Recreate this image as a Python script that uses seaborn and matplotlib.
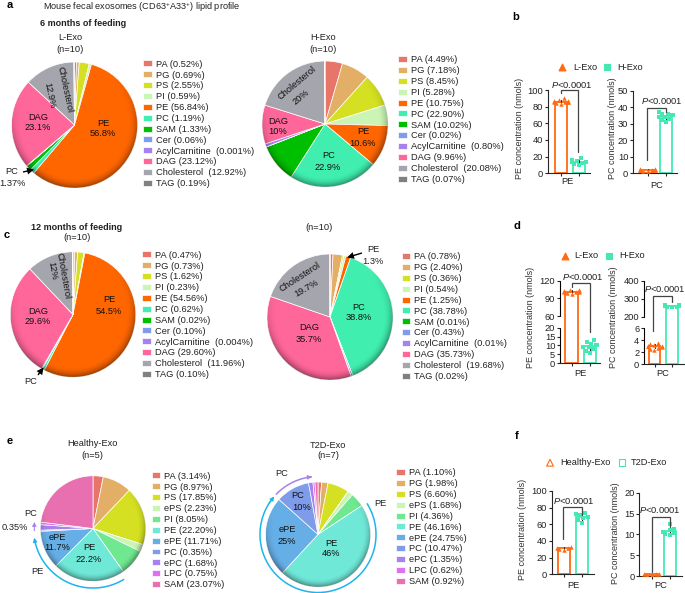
# lipid profile figure, panels a-f
import numpy as np
import pandas as pd
import seaborn as sns
import matplotlib
matplotlib.use("Agg")
import matplotlib.pyplot as plt
from matplotlib.patches import Circle

mouse_lipids = ["PA", "PG", "PS", "PI", "PE", "PC", "SAM", "Cer", "AcylCarnitine ", "DAG", "Cholesterol ", "TAG"]
human_lipids = ["PA", "PG", "PS", "ePS", "PI", "PE", "ePE", "PC", "ePC", "LPC", "SAM"]

mouse_colors = ["#E8756A", "#E3AE66", "#D4E021", "#CBF5B5", "#FF6600", "#40EFB0",
                "#00BE00", "#7F9CEB", "#A582EE", "#FF6699", "#A5A5AD", "#808080"]
human_colors = ["#E8756A", "#E3AE66", "#D4E021", "#CBF5B5", "#70E890", "#70E8D8",
                "#66AEE6", "#7F9CEB", "#A582EE", "#E070EE", "#E870B0"]

l_exo_6m = [0.52, 0.69, 2.55, 0.59, 56.84, 1.19, 1.33, 0.06, 0.001, 23.12, 12.92, 0.19]
h_exo_6m = [4.49, 7.18, 8.45, 5.28, 10.75, 22.90, 10.02, 0.02, 0.80, 9.96, 20.08, 0.07]
l_exo_12m = [0.47, 0.73, 1.62, 0.23, 54.56, 0.62, 0.02, 0.10, 0.004, 29.60, 11.96, 0.10]
h_exo_12m = [0.78, 2.40, 0.36, 0.54, 1.25, 38.78, 0.01, 0.43, 0.01, 35.73, 19.68, 0.02]
healthy_exo = [3.14, 8.97, 17.85, 2.23, 8.05, 22.20, 11.71, 0.35, 1.68, 0.75, 23.07]
t2d_exo = [1.10, 1.98, 6.60, 1.68, 4.36, 46.16, 24.75, 10.47, 1.35, 0.62, 0.92]

pe_6m_l = [83, 84, 85, 85, 86, 86, 87, 87, 88, 90]
pe_6m_h = [10, 11, 12, 13, 13, 14, 14, 15, 16, 18]
pc_6m_l = [1.2, 1.5, 1.7, 1.8, 2.0, 2.0, 2.2, 2.3, 2.5, 2.8]
pc_6m_h = [31, 32, 33, 34, 34, 35, 35, 36, 36, 37]
pe_12m_l = [98, 99, 100, 101, 101, 102, 102, 103, 104, 105]
pe_12m_h = [6, 7, 8, 9, 9, 10, 10, 11, 12, 13]
pc_12m_l = [2.4, 2.6, 2.8, 2.9, 3.0, 3.0, 3.1, 3.2, 3.4, 3.6]
pc_12m_h = [252, 254, 256, 258, 258, 260, 260, 262, 264, 266]
pe_t2d_l = [29, 30, 31, 32, 33]
pe_t2d_h = [62, 65, 67, 69, 71, 72, 73]
pc_t2d_l = [0.2, 0.3, 0.4, 0.5, 0.6]
pc_t2d_h = [9.8, 10.0, 10.3, 10.5, 11.0, 11.4, 12.4]

ORANGE = "#FF6A13"
GREEN = "#45E8B4"
BLUE = "#1EB4F0"
PURPLE = "#A582EE"
TXT = "#222222"
LINE = "#444444"
FS = 6.7
W, H = 685, 593

sns.set_theme(context="paper", style="ticks", rc={
    "axes.linewidth": 0.8, "xtick.major.width": 0.8, "ytick.major.width": 0.8,
    "xtick.major.size": 2.2, "ytick.major.size": 2.2, "xtick.major.pad": 1.5, "ytick.major.pad": 1.2,
    "ytick.labelsize": FS, "xtick.labelsize": FS, "text.color": TXT, "ytick.labelcolor": TXT,
    "mathtext.fontset": "custom", "mathtext.rm": "Liberation Sans",
    "mathtext.it": "Liberation Sans:italic", "mathtext.bf": "Liberation Sans:bold",
})
plt.rcParams["font.family"] = ["Liberation Sans", "DejaVu Sans"]

fig = plt.figure(figsize=(W / 100, H / 100), dpi=100)

# overlay in pixel coordinates for annotations
over = fig.add_axes([0, 0, 1, 1], zorder=10)
over.set_xlim(0, W)
over.set_ylim(H, 0)
over.axis("off")


def box(x0, y0, x1, y1):
    return [x0 / W, 1 - y1 / H, (x1 - x0) / W, (y1 - y0) / H]


def put(x, y, s, size=FS, **kw):
    over.text(x, y, s, fontsize=size, ha=kw.pop("ha", "center"), va="center", **kw)


def pct(v):
    return f"{v:.3f}%" if v < 0.01 else f"{v:.2f}%"


def pie_panel(values, names, colors, cx, cy, r, leg_x, leg_y, row=10.6):
    ax = fig.add_axes(box(cx - r - 1, cy - r - 1, cx + r + 1, cy + r + 1))
    wedges, _ = ax.pie(values, colors=colors, startangle=90, counterclock=False, radius=1,
                       wedgeprops={"edgecolor": "white", "linewidth": 0.5})
    # darker rim on the lower right, the pies look slightly 3D
    yy, xx = np.mgrid[-1:1:300j, -1:1:300j]
    rim = np.clip((np.hypot(xx, yy) - 0.84) / 0.16, 0, 1) ** 2
    side = np.clip(0.5 - yy * 0.85 + xx * 0.2, 0, 1)
    shade = np.zeros(xx.shape + (4,))
    shade[..., 3] = 0.38 * rim * side
    img = ax.imshow(shade, extent=(-1, 1, -1, 1), origin="lower", zorder=5)
    img.set_clip_path(Circle((0, 0), 1, transform=ax.transData))
    lim = (r + 1) / r
    ax.set_xlim(-lim, lim)
    ax.set_ylim(-lim, lim)
    ax.set_aspect("equal")
    ax.axis("off")
    labels = [f"{n} ({pct(v)})" for n, v in zip(names, values)]
    ax.legend(wedges, labels, loc="upper left", bbox_to_anchor=(leg_x / W, 1 - (leg_y - row / 2) / H),
              bbox_transform=fig.transFigure, frameon=False, fontsize=FS, borderpad=0, borderaxespad=0,
              handlelength=0.92, handleheight=0.6, handletextpad=0.45, labelspacing=0.2)


def bar_panel(left, right, axis_x, ticks_px, x_end, y_map, yticks):
    # y_map: pairs of (data value, pixel), more than two pairs gives the broken axis
    vals = [p[0] for p in y_map]
    pix = [p[1] for p in y_map]
    top, bot = pix[-1], pix[0]
    ax = fig.add_axes(box(axis_x, top, x_end, bot))
    step = ticks_px[1] - ticks_px[0]
    frac = [(bot - p) / (bot - top) for p in pix]

    def fwd(v):
        return np.interp(np.ravel(v), vals, frac).reshape(np.shape(v))

    def inv(v):
        return np.interp(np.ravel(v), frac, vals).reshape(np.shape(v))

    if len(y_map) > 2:
        ax.set_yscale("function", functions=(fwd, inv))
    df = pd.DataFrame({"group": ["l"] * len(left) + ["h"] * len(right), "value": left + right})
    sns.barplot(data=df, x="group", y="value", hue="group", order=["l", "h"], hue_order=["l", "h"],
                palette=[ORANGE, GREEN], fill=False, width=0.66, linewidth=1.3, errorbar="sd",
                err_kws={"color": "#111111", "linewidth": 0.7}, legend=False, ax=ax)
    for key, col, mk in (("l", ORANGE, "^"), ("h", GREEN, "s")):
        sns.swarmplot(data=df[df.group == key], x="group", y="value", order=["l", "h"], color=col,
                      marker=mk, size=3.2, ax=ax, warn_thresh=1)
    ax.set_xlim(-(ticks_px[0] - axis_x) / step, (x_end - ticks_px[0]) / step)
    ax.set_ylim(vals[0], vals[-1])
    ax.set_yticks(yticks)
    ax.set_xticks([0, 1])
    ax.set_xticklabels(["", ""])
    ax.set_xlabel("")
    ax.set_ylabel("")
    ax.patch.set_alpha(0)
    sns.despine(ax=ax)
    if len(y_map) > 2:
        # leave a gap in the y axis line at the break
        ax.spines["left"].set_visible(False)
        tr = ax.get_yaxis_transform()
        ax.plot([0, 0], [vals[0], vals[1]], color="black", lw=0.8, transform=tr, clip_on=False)
        ax.plot([0, 0], [vals[2], vals[3]], color="black", lw=0.8, transform=tr, clip_on=False)
    return ax


def bracket(x0, y0, top, x1, y1):
    over.plot([x0, x0, x1, x1], [y0, top, top, y1], color=LINE, lw=0.9, solid_joinstyle="miter")


def arrow(x0, y0, x1, y1, color="black", width=1.0, head=5):
    over.annotate("", xy=(x1, y1), xytext=(x0, y0),
                  arrowprops={"facecolor": color, "edgecolor": color, "width": width, "headwidth": head,
                              "headlength": head, "shrink": 0, "linewidth": 0})


def arc(cx, cy, r, t0, t1, color):
    t = np.radians(np.linspace(t0, t1, 120))
    x = cx + r * np.cos(t)
    y = cy + r * np.sin(t)
    over.plot(x[:-2], y[:-2], color=color, lw=1.1)
    over.annotate("", xy=(x[-1], y[-1]), xytext=(x[-5], y[-5]),
                  arrowprops={"arrowstyle": "-|>", "color": color, "lw": 0.8, "mutation_scale": 6, "shrinkA": 0, "shrinkB": 0})


# pies
pie_panel(l_exo_6m, mouse_lipids, mouse_colors, 74.5, 125, 63, 143, 65)
pie_panel(h_exo_6m, mouse_lipids, mouse_colors, 325, 124, 63, 398, 60.7)
pie_panel(l_exo_12m, mouse_lipids, mouse_colors, 73, 314.5, 62.7, 142, 256)
pie_panel(h_exo_12m, mouse_lipids, mouse_colors, 330, 317, 63, 401.7, 257.7)
pie_panel(healthy_exo, human_lipids, human_colors, 93, 528.5, 52.7, 151.7, 477, row=10.55)
pie_panel(t2d_exo, human_lipids, human_colors, 318, 534.5, 52.5, 396, 473.7, row=10.55)

# bars, pixel positions of each axis
bar_panel(pe_6m_l, pe_6m_h, 548, (561, 579), 590, [(0, 173.3), (100, 90)], [0, 20, 40, 60, 80, 100])
bar_panel(pc_6m_l, pc_6m_h, 633, (647.5, 666), 677, [(0, 173.3), (50, 90.7)], [0, 10, 20, 30, 40, 50])
bar_panel(pe_12m_l, pe_12m_h, 560, (571.5, 590), 600,
          [(0, 363.3), (20, 327.7), (60, 316), (120, 280.7)], [0, 5, 10, 15, 20, 60, 90, 120])
bar_panel(pc_12m_l, pc_12m_h, 644, (654.5, 672), 684,
          [(0, 364.3), (6, 328.3), (200, 316.7), (400, 280.7)], [0, 2, 4, 6, 200, 300, 400])
bar_panel(pe_t2d_l, pe_t2d_h, 551.7, (564, 581.7), 594, [(0, 574.3), (100, 491)], [0, 20, 40, 60, 80, 100])
bar_panel(pc_t2d_l, pc_t2d_h, 639.3, (651.7, 670), 682, [(0, 576), (20, 492.7)], [0, 5, 10, 15, 20])

# titles and panel letters
for x, y, s in [(10, 5, "a"), (516, 17, "b"), (7, 235, "c"), (517, 226, "d"), (10, 441, "e"), (517, 436, "f")]:
    put(x, y, s, size=8, fontweight="bold", color="black")
put(142, 7, "Mouse fecal exosomes (CD63$^{+}$A33$^{+}$) lipid profile", size=6.6)
put(83, 23, "6 months of feeding", fontweight="bold", size=6.5)
put(77, 227, "12 months of feeding", fontweight="bold", size=6.5)
for x, y, s in [(70, 37, "L-Exo"), (70, 49, "(n=10)"), (323, 38, "H-Exo"), (323, 50, "(n=10)"),
                (77, 238, "(n=10)"), (319, 227, "(n=10)"), (92, 444, "Healthy-Exo"), (92, 455, "(n=5)"),
                (328, 445, "T2D-Exo"), (328, 456, "(n=7)")]:
    put(x, y, s)

# labels inside the pies
pie_texts = [(103, 123, "PE"), (103, 134, "56.8%"), (38, 117, "DAG"), (38, 128, "23.1%"),
             (363, 131, "PE"), (363, 143, "10.6%"), (329, 156, "PC"), (328, 168, "22.9%"),
             (278, 121, "DAG"), (278, 132, "10%"),
             (109, 299, "PE"), (109, 311, "54.5%"), (38, 311, "DAG"), (38, 322, "29.6%"),
             (359, 307, "PC"), (359, 318, "38.8%"), (309, 328, "DAG"), (309, 340, "35.7%"),
             (57, 537, "ePE"), (57, 548, "11.7%"), (89, 548, "PE"), (89, 560, "22.2%"),
             (298, 496, "PC"), (302, 507, "10%"), (287, 530, "ePE"), (287, 541, "25%"),
             (331, 543, "PE"), (331, 554, "46%")]
for x, y, s in pie_texts:
    put(x, y, s, color="#111111")
for x, y, s, rot in [(65, 90, "Cholesterol", -78), (49, 95, "12.9%", -78), (63, 276, "Cholesterol", -80),
                     (52, 271, "12%", -80), (297, 83, "Cholesterol", 40), (301, 97, "20%", 40),
                     (300, 277, "Cholesterol", 33), (306, 288, "19.7%", 30)]:
    put(x, y, s, rotation=rot, rotation_mode="anchor", color="#111111")

# callouts
arrow(23, 172, 34, 169.5)
put(12, 172, "PC")
put(12, 184, "1.37%")
arrow(38, 375, 43.5, 367.5)
put(31, 382, "PC")
arrow(362, 253, 347, 257.5)
put(373, 250, "PE")
put(373, 262, "1.3%")
arc(93, 528.5, 59.5, 59, 171, BLUE)
arrow(34.3, 531, 34.3, 522, color=PURPLE, width=0.8, head=3.5)
put(31, 513, "PC")
put(15, 527, "0.35%")
put(37, 572, "PE")
arc(318, 534.5, 58, -32, 221, BLUE)
arc(318, 534.5, 58, 224, 264, PURPLE)
put(282, 474, "PC")
put(380, 503, "PE")

# bar annotations: y labels, group labels, p values
for x, y, s in [(520, 128, "PE concentration (nmols)"), (613, 128, "PC concentration (nmols)"),
                (531, 317, "PE concentration (nmols)"), (614, 317, "PC concentration (nmols)"),
                (523, 529, "PE concentration (nmols)"), (616, 533, "PC concentration (nmols)")]:
    put(x, y, s, rotation=90, color="#333333", size=6.5)
for x, y, s in [(567, 182, "PE"), (657, 185, "PC"), (580, 373, "PE"), (663, 373, "PC"), (573, 585, "PE"), (661, 586, "PC")]:
    put(x, y, s)
p_label = "$\\mathit{P}$<0.0001"
for x, y in [(572, 85), (662, 101), (583, 277), (665, 289), (574, 500.7), (660, 510)]:
    put(x, y, p_label)
bracket(561, 93, 90, 578, 152)
bracket(647, 160, 108, 666, 112)
bracket(571.7, 287, 283.3, 590, 332)
bracket(653, 331, 296, 672, 302)
bracket(562.7, 539, 507, 581.7, 515)
bracket(651.7, 571.7, 516.7, 670, 526.7)

# marker keys above the bars
for mx, my, tx, name, mk, col, hollow in [
        (562, 67, 573, "L-Exo", "^", ORANGE, False), (607, 67, 617, "H-Exo", "s", GREEN, False),
        (565, 256, 574.7, "L-Exo", "^", ORANGE, False), (609, 256, 619, "H-Exo", "s", GREEN, False),
        (550, 462.7, 560, "Healthy-Exo", "^", ORANGE, True), (622, 462.7, 631, "T2D-Exo", "s", GREEN, True)]:
    over.scatter([mx], [my], marker=mk, s=24, linewidths=0.8, edgecolors=col,
                 facecolors="none" if hollow else col)
    put(tx, my, name, ha="left")

fig.savefig("out.png", dpi=100)
